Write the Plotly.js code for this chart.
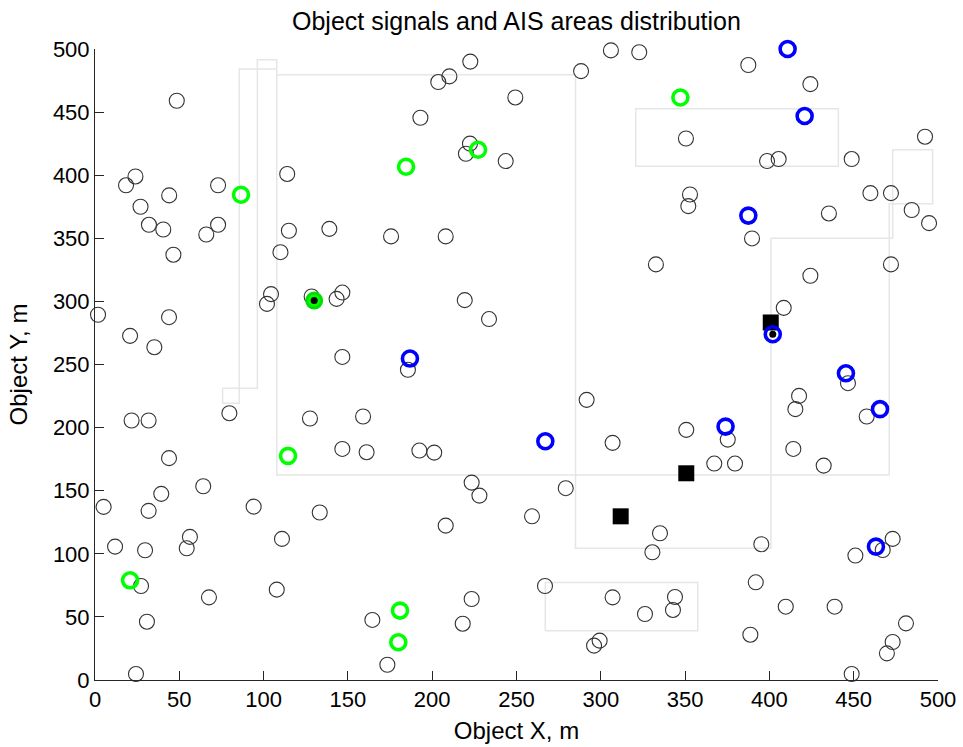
<!DOCTYPE html>
<html>
<head>
<meta charset="utf-8">
<script src="https://cdn.plot.ly/plotly-3.0.1.min.js"></script>
<style>html,body{margin:0;padding:0;background:#fff}#chart{width:963px;height:747px}</style>
</head>
<body>
<div id="chart"></div>
<script>
// Object signals (plain)
const signalX = [48.5,18.4,24,27,32,40.5,44,73,66,73,46.5,114,115,139,175.6,110,193,
 222.6,203.6,210.2,249.3,222.4,220,243.6,208,306,322.8,288.3,350.5,352.9,351.9,332.7,
 387.5,424.3,398.6,405.5,448.8,492.3,459.9,472.1,484.4,494.7,435.3,389.7,
 472.1,424.3,408.5,446.6,417.6,415.4,457.7,414.2,432.2,379.6,
 219.3,233.7,185.6,291.6,307,350.7,375.3,367.3,192.4,201.2,
 223.4,228,208,259.2,279.2,335.1,330.6,266.9,307,344,342.8,326.2,223.4,218.1,299.3,296,
 395.2,451,467.2,473.1,391.9,409.7,438.7,481,473.1,469.7,388.7,448.8,
 5.1,31.8,39.3,64.2,94.1,133.3,11.9,29.7,56.3,54.4,110.9,27.3,67.6,107.8,30.8,164.5,173.4,24.3,
 1.8,43.9,20.8,35.2,104.4,102,128.5,146.7,143.3,146.7,79.7,21.7,31.8,127.5,159,43.9,146.7,161.1];
const signalY = [459,392,399,375,360.7,357,384,392,353,360.7,337,401,356,357.5,351.5,339,445.5,
 490,473.8,478.3,461.6,425,417,411.2,351.5,498.9,497.4,482.5,429.1,384.7,375.5,329.3,
 487.3,472.2,411.2,412.8,412.8,430.5,385.8,385.8,372.4,362,369.7,349.9,
 329.3,320.3,294.9,235.2,225.1,214.6,208.8,183.1,169.9,171.5,
 301,286,245.8,222,187.9,198.2,190.5,171.5,181.8,180.2,
 156.4,146.1,122.3,129.7,152,116.3,101.2,74.5,65.5,65.8,55.5,52.3,64.2,44.6,31.2,27.2,
 107.6,98.6,103,111.8,77.4,58.1,58.1,44.9,30.1,21.1,35.9,4.8,
 137.2,134,147.5,153.5,137.4,132.7,105.7,102.8,113.4,104.4,111.8,74.5,65.5,71.6,46.2,47.6,12.1,4.8,
 289.4,287.5,272.7,263.7,305.8,298,303.9,307,302,256,211.4,205.6,205.6,207.2,208.8,175.8,183.1,180.5];

// AIS stations (squares)
const stationX = [400.8, 350.7, 311.8];
const stationY = [283.3, 163.8, 129.7];

// Green signals
const greenX = [86.6, 184.5, 227.2, 347.2, 114.5, 20.8, 180.9, 179.9];
const greenY = [384.5, 406.7, 420.2, 461.6, 177.6, 79, 55, 29.9];

// Blue signals
const blueX = [410.8, 420.9, 387.5, 186.8, 267.1, 374, 402, 445.4, 465.6, 463.2];
const blueY = [500, 446.9, 368, 254.7, 189.2, 200.8, 274, 243.1, 214.6, 105.7];

// Filled green signal
const filledX = [130];
const filledY = [300.7];

// Current object markers (black dots)
const dotX = [130, 402];
const dotY = [300.7, 274];

// AIS area outlines (polylines, null separates)
const areaX = [75.7,75.7,85.6,85.6,107.8,null,
 75.7,96.3,96.3,107.8,107.8,null,
 107.8,285,285,400.9,400.9,473.1,473.1,496.8,496.8,471.1,471.1,107.8,107.8,null,
 320.7,440.9,440.9,320.7,320.7,null,
 267.1,357.5,357.5,267.1,267.1];
const areaY = [231.2,219.3,219.3,484.1,484.1,null,
 231.2,231.2,491.5,491.5,479.6,null,
 479.6,479.6,104.4,104.4,350.1,350.1,420.2,420.2,377.4,377.4,162.5,162.5,479.6,null,
 407,407,452.7,452.7,407,null,
 39.1,39.1,77.2,77.2,39.1];

const FONT = 'Liberation Sans, Arial, Helvetica, sans-serif';

const traces = [
  {x: areaX, y: areaY, mode: 'lines', line: {color: '#e6e6e6', width: 1.5}, connectgaps: false},
  {x: signalX, y: signalY, mode: 'markers', marker: {symbol: 'circle-open', size: 15, color: '#333333', line: {width: 1.1, color: '#333333'}}},
  {x: stationX, y: stationY, mode: 'markers', marker: {symbol: 'square', size: 16, color: '#000000', line: {width: 0}}},
  {x: greenX, y: greenY, mode: 'markers', marker: {symbol: 'circle-open', size: 15, color: '#00ff00', line: {width: 3.6, color: '#00ff00'}}},
  {x: blueX, y: blueY, mode: 'markers', marker: {symbol: 'circle-open', size: 15, color: '#0000ff', line: {width: 3.6, color: '#0000ff'}}},
  {x: filledX, y: filledY, mode: 'markers', marker: {symbol: 'circle', size: 15, color: '#00ff00', line: {width: 3, color: '#00e000'}}},
  {x: dotX, y: dotY, mode: 'markers', marker: {symbol: 'circle', size: 7, color: '#000000', line: {width: 0}}}
];

const layout = {
  width: 963, height: 747,
  margin: {l: 95, r: 25, t: 49, b: 67, pad: 0},
  paper_bgcolor: '#ffffff', plot_bgcolor: '#ffffff',
  showlegend: false,
  font: {family: FONT, color: '#000000'},
  title: {text: 'Object signals and AIS areas distribution', font: {family: FONT, size: 25, color: '#000'}, x: 0.5363, xanchor: 'center', y: 0.972, yanchor: 'middle'},
  xaxis: {
    range: [0, 500], tickvals: [0,50,100,150,200,250,300,350,400,450,500],
    ticks: 'inside', ticklen: 9, tickwidth: 1, tickcolor: '#262626',
    showline: true, linecolor: '#262626', linewidth: 1, mirror: false,
    showgrid: false, zeroline: false,
    tickfont: {family: FONT, size: 22, color: '#000'},
    title: {text: 'Object X, m', font: {family: FONT, size: 24, color: '#000'}, standoff: 10}
  },
  yaxis: {
    range: [0, 500], tickvals: [0,50,100,150,200,250,300,350,400,450,500],
    ticks: 'inside', ticklen: 9, tickwidth: 1, tickcolor: '#262626',
    showline: true, linecolor: '#262626', linewidth: 1, mirror: false,
    showgrid: false, zeroline: false,
    tickfont: {family: FONT, size: 22, color: '#000'},
    title: {text: 'Object Y, m', font: {family: FONT, size: 24, color: '#000'}, standoff: 18}
  }
};

traces.forEach(t => { t.cliponaxis = false; t.type = 'scatter'; t.hoverinfo = 'skip'; });
Plotly.newPlot('chart', traces, layout, {staticPlot: true, displayModeBar: false});
</script>
</body>
</html>
